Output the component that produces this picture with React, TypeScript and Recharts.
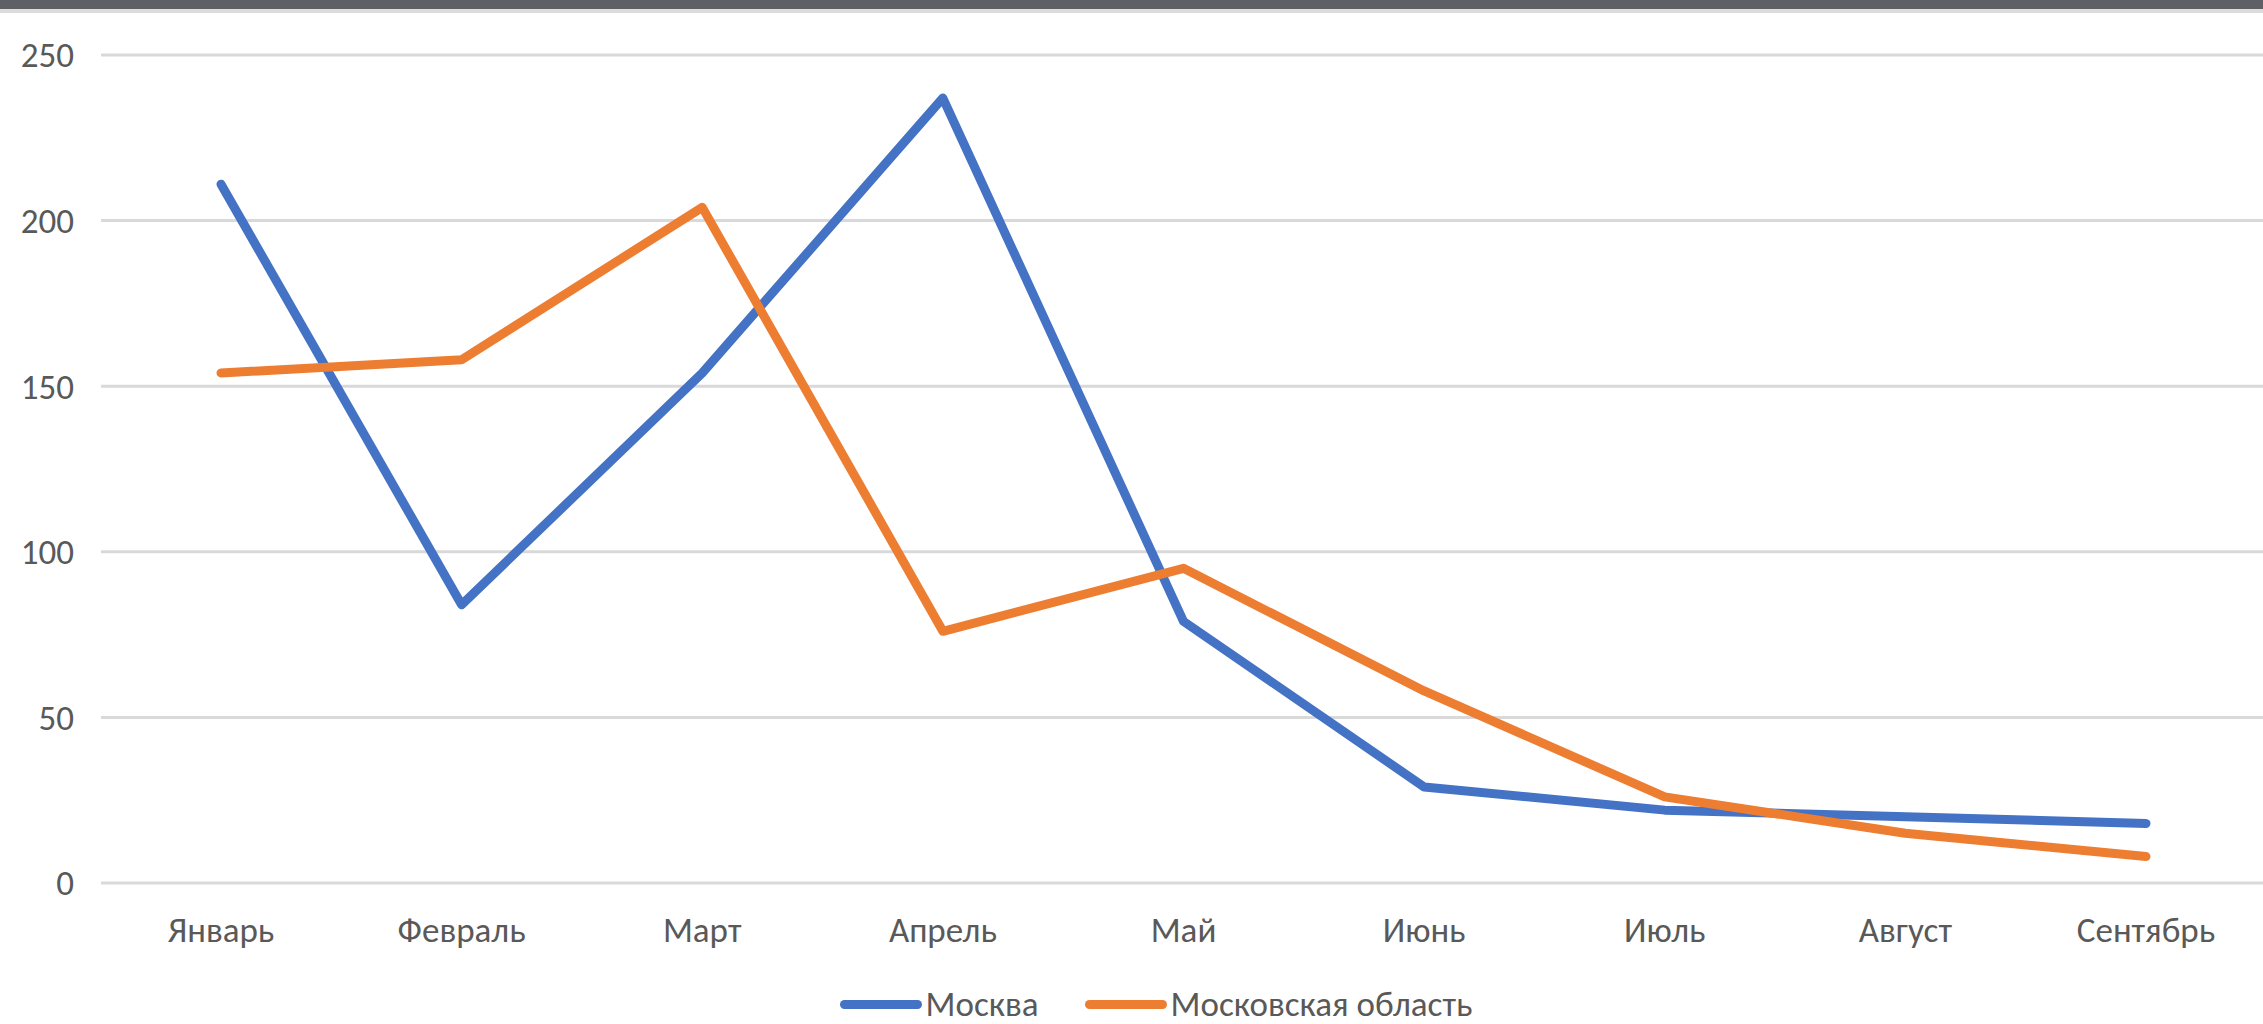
import React from 'react';
import { LineChart, Line, XAxis, YAxis, CartesianGrid, Legend } from 'recharts';

const months = ['Январь', 'Февраль', 'Март', 'Апрель', 'Май', 'Июнь', 'Июль', 'Август', 'Сентябрь'];
const moscow = [211, 84, 154, 237, 79, 29, 22, 20, 18];
const moscowRegion = [154, 158, 204, 76, 95, 58, 26, 15, 8];
const yTicks = [0, 50, 100, 150, 200, 250];

const BLUE = '#4472C4';
const ORANGE = '#ED7D31';
const TEXT = '#595959';
const FONT = "Calibri, Carlito, 'Open Sans', sans-serif";

const data = months.map((m, i) => ({
  month: m,
  moscow: moscow[i],
  region: moscowRegion[i],
}));

const LegendContent = ({ payload }: any) => (
  <div style={{ height: 86, position: 'relative', fontFamily: FONT }}>
    <div
      style={{
        position: 'absolute',
        top: 45,
        left: 0,
        right: 0,
        display: 'flex',
        justifyContent: 'center',
        paddingLeft: 46,
      }}
    >
      {(payload || []).map((p: any, i: number) => (
        <div key={i} style={{ display: 'flex', alignItems: 'center', marginRight: i === 0 ? 46 : 0 }}>
          <div style={{ width: 82, height: 9, borderRadius: 5, background: p.color, marginRight: 4 }} />
          <span style={{ fontSize: 35, color: TEXT, lineHeight: '42px' }}>{p.value}</span>
        </div>
      ))}
    </div>
  </div>
);

export default function App() {
  return (
    <div
      style={{
        position: 'absolute',
        left: 0,
        top: 0,
        width: 2263,
        height: 1024,
        background: '#fff',
        overflow: 'hidden',
      }}
    >
      <div style={{ position: 'absolute', left: 0, top: 0, width: 2263, height: 9, background: '#5f6066' }} />
      <div style={{ position: 'absolute', left: 0, top: 9, width: 2263, height: 4, background: '#dcdcdc' }} />
      <LineChart
        width={2266}
        height={1024}
        data={data}
        margin={{ top: 55, right: 0, left: 0, bottom: 0 }}
        style={{ fontFamily: FONT }}
      >
        <CartesianGrid vertical={false} stroke="#D9D9D9" strokeWidth={3} />
        <XAxis
          dataKey="month"
          axisLine={false}
          tickLine={false}
          tickSize={0}
          tickMargin={34}
          height={55}
          padding={{ left: 120, right: 120 }}
          tick={{ fill: TEXT, fontSize: 35, fontFamily: FONT }}
          interval={0}
        />
        <YAxis
          domain={[0, 250]}
          ticks={yTicks}
          axisLine={false}
          tickLine={false}
          tickSize={0}
          tickMargin={27}
          width={101}
          tick={{ fill: TEXT, fontSize: 35, fontFamily: FONT }}
        />
        <Legend verticalAlign="bottom" content={<LegendContent />} />
        <Line
          type="linear"
          dataKey="moscow"
          name="Москва"
          stroke={BLUE}
          strokeWidth={9}
          strokeLinecap="round"
          strokeLinejoin="round"
          dot={false}
          activeDot={false}
          isAnimationActive={false}
        />
        <Line
          type="linear"
          dataKey="region"
          name="Московская область"
          stroke={ORANGE}
          strokeWidth={9}
          strokeLinecap="round"
          strokeLinejoin="round"
          dot={false}
          activeDot={false}
          isAnimationActive={false}
        />
      </LineChart>
    </div>
  );
}
